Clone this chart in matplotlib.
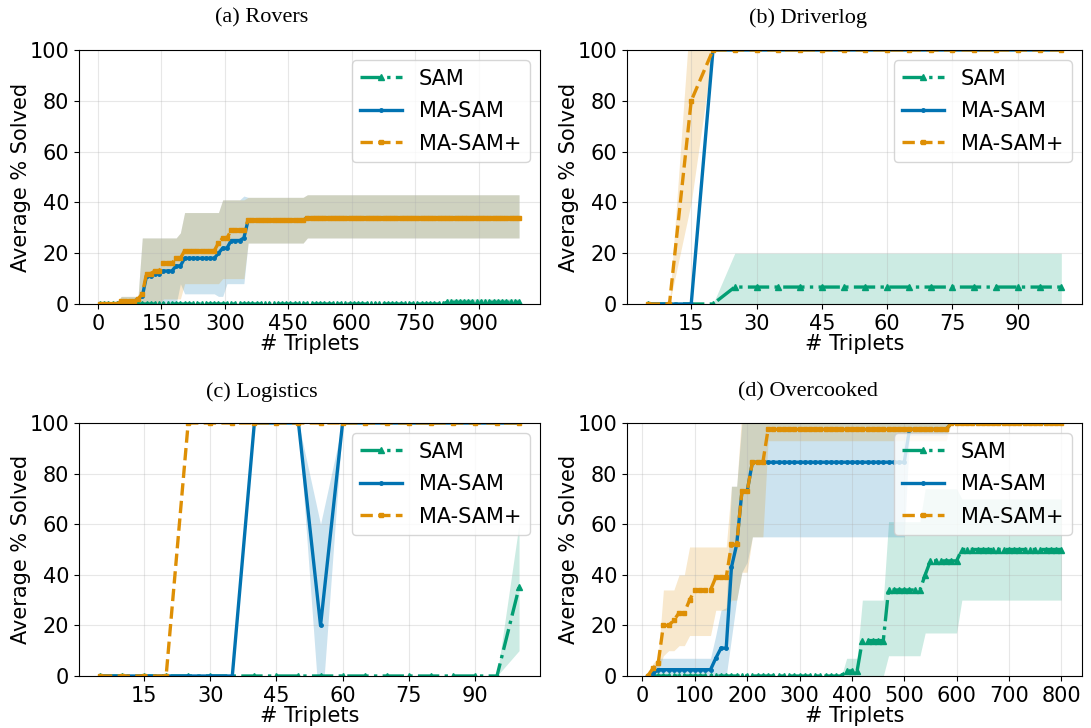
import numpy as np
import matplotlib.pyplot as plt

W, H = 1091, 728

SAM_COLOR = '#029e73'
MASAM_COLOR = '#0173b2'
MASAM_PLUS_COLOR = '#de8f05'

# sample grids (# triplets)
rovers_x = np.arange(5, 1000, 10)
driverlog_x = np.arange(5, 101, 5)
logistics_x = np.arange(5, 101, 5)
overcooked_x = np.arange(10, 801, 10)

# curves are stored as (value, repeat) runs

# (a) Rovers
rovers_sam = [(0, 82), (0.7, 18)]
rovers_sam_lo = [(0, 100)]
rovers_sam_hi = [(0, 82), (2, 18)]

rovers_masam = [(0, 5), (1, 4), (2, 1), (3, 1), (11, 2), (12, 2), (13, 3), (15, 2),
                (18, 8), (20, 1), (22, 2), (25, 3), (26, 1), (33, 14), (34, 51)]
rovers_masam_lo = [(0, 19), (8, 1), (4, 8), (3, 2), (8, 5), (24, 14), (26, 51)]
rovers_masam_hi = [(0, 5), (3, 5), (26, 9), (28, 1), (36, 9), (41, 5), (42.5, 1),
                   (42, 14), (43, 51)]

rovers_plus = [(0, 5), (1, 4), (2, 1), (4, 1), (12, 2), (13, 2), (16, 3), (18, 2),
               (21, 8), (24, 1), (26, 2), (29, 4), (33, 14), (34, 51)]
rovers_plus_lo = [(0, 15), (2, 5), (8, 9), (10, 6), (24, 14), (26, 51)]
rovers_plus_hi = [(0, 5), (3, 5), (26, 9), (28, 1), (36, 9), (41, 6), (42, 14), (43, 51)]

# (b) Driverlog
driverlog_sam = [(0, 4), (6.67, 16)]
driverlog_sam_lo = [(0, 20)]
driverlog_sam_hi = [(0, 4), (20, 16)]

driverlog_masam = [(0, 3), (100, 17)]
driverlog_masam_lo = [(0, 3), (100, 17)]
driverlog_masam_hi = [(0, 3), (100, 17)]

driverlog_plus = [(0, 2), (80, 1), (100, 17)]
driverlog_plus_lo = [(0, 2), (40, 1), (100, 17)]
driverlog_plus_hi = [(0, 2), (120, 1), (100, 17)]

# (c) Logistics
logistics_sam = [(0, 19), (35, 1)]
logistics_sam_lo = [(0, 19), (10, 1)]
logistics_sam_hi = [(0, 19), (60, 1)]

logistics_masam = [(0, 7), (100, 3), (20, 1), (100, 9)]
logistics_masam_lo = [(0, 7), (100, 3), (-20, 1), (100, 9)]
logistics_masam_hi = [(0, 7), (100, 3), (60, 1), (100, 9)]

logistics_plus = [(0, 4), (100, 16)]
logistics_plus_lo = [(0, 4), (100, 16)]
logistics_plus_hi = [(0, 4), (100, 16)]

# (d) Overcooked
overcooked_sam = [(0, 38), (2, 3), (14, 5), (34, 7), (40, 1), (45.5, 6), (50, 20)]
overcooked_sam_lo = [(0, 46), (8, 7), (17, 7), (30, 20)]
overcooked_sam_hi = [(0, 38), (7, 3), (30, 5), (61, 7), (74, 7), (70, 20)]

overcooked_masam = [(0, 1), (1, 1), (2.5, 11), (7, 1), (11, 2), (43, 1), (52, 1),
                    (73, 2), (84.5, 30), (97.5, 8), (100, 22)]
overcooked_masam_lo = [(0, 16), (15, 1), (30, 1), (41, 1), (45, 1), (55, 30), (95, 8),
                       (100, 22)]
overcooked_masam_hi = [(0, 1), (3, 1), (7, 11), (16, 1), (26, 1), (27, 1), (75, 2),
                       (100, 1), (105, 1), (114, 30), (100, 30)]

overcooked_plus = [(0, 1), (3, 1), (5, 1), (20, 2), (22, 1), (25, 2), (30, 1), (34, 4),
                   (39, 3), (52, 2), (73, 2), (84.5, 3), (97.5, 35), (100, 22)]
overcooked_plus_lo = [(0, 2), (2, 1), (8, 1), (10, 2), (12, 2), (16, 5), (26, 3), (30, 2),
                      (41, 2), (55, 3), (93, 35), (100, 22)]
overcooked_plus_hi = [(0, 1), (5, 1), (7, 1), (34, 3), (40, 2), (51, 8), (75, 2),
                      (105, 5), (102, 35), (100, 22)]


def expand(runs):
    vals, counts = zip(*runs)
    return np.repeat(vals, counts)


panels = [
    ('(a) Rovers', rovers_x, [0, 150, 300, 450, 600, 750, 900],
     [(rovers_sam, rovers_sam_lo, rovers_sam_hi),
      (rovers_masam, rovers_masam_lo, rovers_masam_hi),
      (rovers_plus, rovers_plus_lo, rovers_plus_hi)]),
    ('(b) Driverlog', driverlog_x, [15, 30, 45, 60, 75, 90],
     [(driverlog_sam, driverlog_sam_lo, driverlog_sam_hi),
      (driverlog_masam, driverlog_masam_lo, driverlog_masam_hi),
      (driverlog_plus, driverlog_plus_lo, driverlog_plus_hi)]),
    ('(c) Logistics', logistics_x, [15, 30, 45, 60, 75, 90],
     [(logistics_sam, logistics_sam_lo, logistics_sam_hi),
      (logistics_masam, logistics_masam_lo, logistics_masam_hi),
      (logistics_plus, logistics_plus_lo, logistics_plus_hi)]),
    ('(d) Overcooked', overcooked_x, [0, 100, 200, 300, 400, 500, 600, 700, 800],
     [(overcooked_sam, overcooked_sam_lo, overcooked_sam_hi),
      (overcooked_masam, overcooked_masam_lo, overcooked_masam_hi),
      (overcooked_plus, overcooked_plus_lo, overcooked_plus_hi)]),
]

# pixel boxes (left, top, right, bottom) and caption centres
boxes = [(79, 50, 540, 304), (627, 50, 1082, 304),
         (79, 423, 540, 676), (627, 423, 1082, 676)]
captions = [(262, 18), (808, 18), (262, 392), (808, 392)]

styles = [
    dict(label='SAM', color=SAM_COLOR, linestyle='-.', marker='^', markersize=4),
    dict(label='MA-SAM', color=MASAM_COLOR, linestyle='-', marker='.', markersize=5),
    dict(label='MA-SAM+', color=MASAM_PLUS_COLOR, linestyle='--', marker='s', markersize=3),
]

fig = plt.figure(figsize=(W / 100, H / 100), dpi=100)

for (title, x, xticks, series), (l, t, r, b), (cx, cy) in zip(panels, boxes, captions):
    ax = fig.add_axes([l / W, 1 - b / H, (r - l) / W, (b - t) / H])
    for (mean, lo, hi), st in zip(series, styles):
        ax.fill_between(x, expand(lo), expand(hi), color=st['color'], alpha=0.2, linewidth=0)
        ax.plot(x, expand(mean), linewidth=2.4, **st)
    ax.set_ylim(0, 100)
    ax.set_xticks(xticks)
    ax.set_yticks([0, 20, 40, 60, 80, 100])
    ax.grid(True, alpha=0.3)
    ax.tick_params(labelsize=15)
    ax.set_xlabel('# Triplets', fontsize=15, labelpad=0)
    ax.set_ylabel('Average % Solved', fontsize=15, labelpad=-1)
    ax.legend(loc='upper right', fontsize=15, labelspacing=0.6)
    fig.text(cx / W, 1 - cy / H, title, ha='center', va='center',
             family='Liberation Serif', fontsize=16)

fig.savefig('out.png', dpi=100)
